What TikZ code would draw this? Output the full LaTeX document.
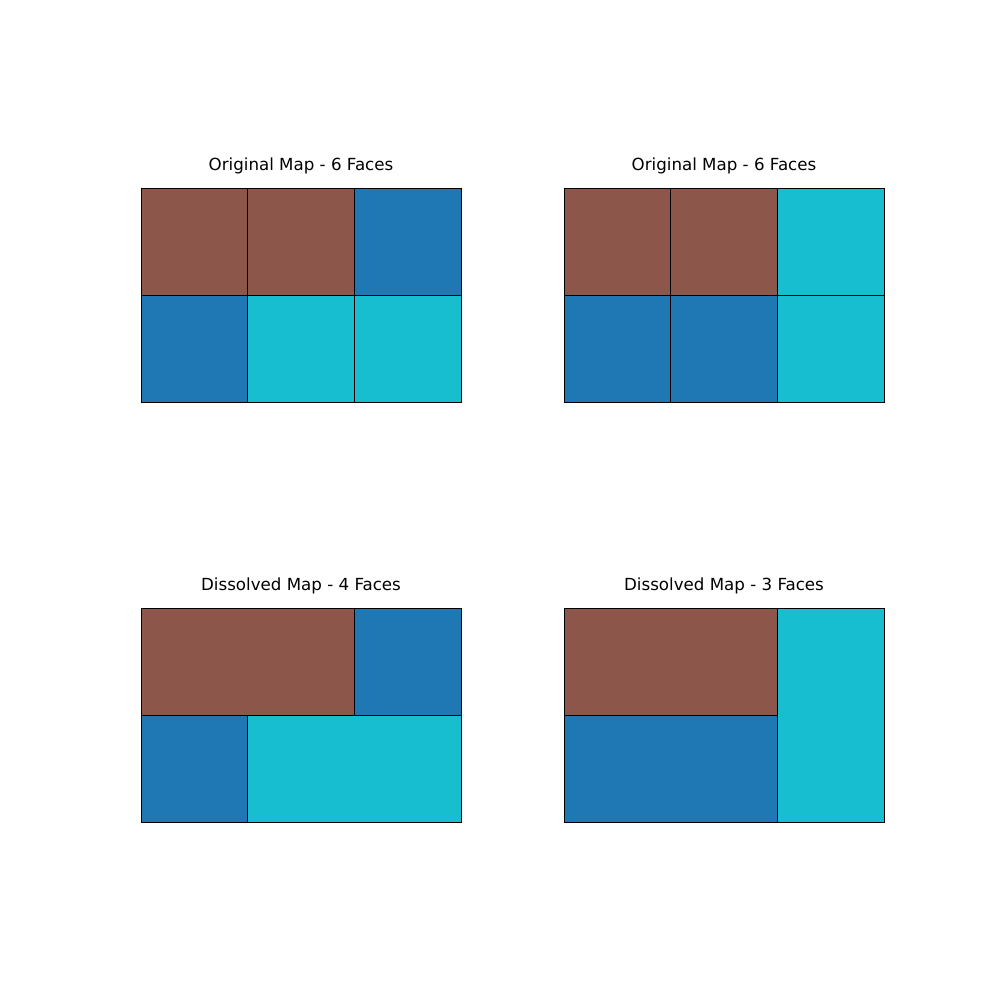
\documentclass[tikz,border=0pt]{standalone}
\usepackage{fontspec}
\setmainfont{DejaVu Sans}
\usetikzlibrary{positioning}
\definecolor{tabbrown}{HTML}{8C564B}
\definecolor{tabblue}{HTML}{1F77B4}
\definecolor{tabcyan}{HTML}{17BECF}

\begin{document}
\begin{tikzpicture}[
    x=0.72pt, y=-0.72pt,
    every node/.style={font=\fontsize{12}{14}\selectfont},
    face/.style={draw=black, line width=0.6pt},
    title/.style={anchor=center, inner sep=0pt}
]
\useasboundingbox (0,0) rectangle (1000,1000);

% --- Original maps (3 x 2 cells) ---
\foreach \x/\y/\c in {141/188/tabbrown, 247.67/188/tabbrown, 354.33/188/tabblue,
                      141/295/tabblue, 247.67/295/tabcyan, 354.33/295/tabcyan}
    \filldraw[face, fill=\c] (\x,\y) rectangle ++(106.67,107);
\foreach \x/\y/\c in {564/188/tabbrown, 670.67/188/tabbrown, 777.33/188/tabcyan,
                      564/295/tabblue, 670.67/295/tabblue, 777.33/295/tabcyan}
    \filldraw[face, fill=\c] (\x,\y) rectangle ++(106.67,107);

% --- Dissolved maps ---
\filldraw[face, fill=tabbrown] (141,608) rectangle (354.33,715);
\filldraw[face, fill=tabblue]  (354.33,608) rectangle (461,715);
\filldraw[face, fill=tabblue]  (141,715) rectangle (247.67,822);
\filldraw[face, fill=tabcyan]  (247.67,715) rectangle (461,822);

\filldraw[face, fill=tabbrown] (564,608) rectangle (777.33,715);
\filldraw[face, fill=tabblue]  (564,715) rectangle (777.33,822);
\filldraw[face, fill=tabcyan]  (777.33,608) rectangle (884,822);

% --- Titles ---
\node[title] (origA) at (301,166) {Original Map - 6 Faces};
\node[title] (origB) at (724,166) {Original Map - 6 Faces};
\node[title] (dissA) at (301,586) {Dissolved Map - 4 Faces};
\node[title] (dissB) at (724,586) {Dissolved Map - 3 Faces};

\end{tikzpicture}
\end{document}
